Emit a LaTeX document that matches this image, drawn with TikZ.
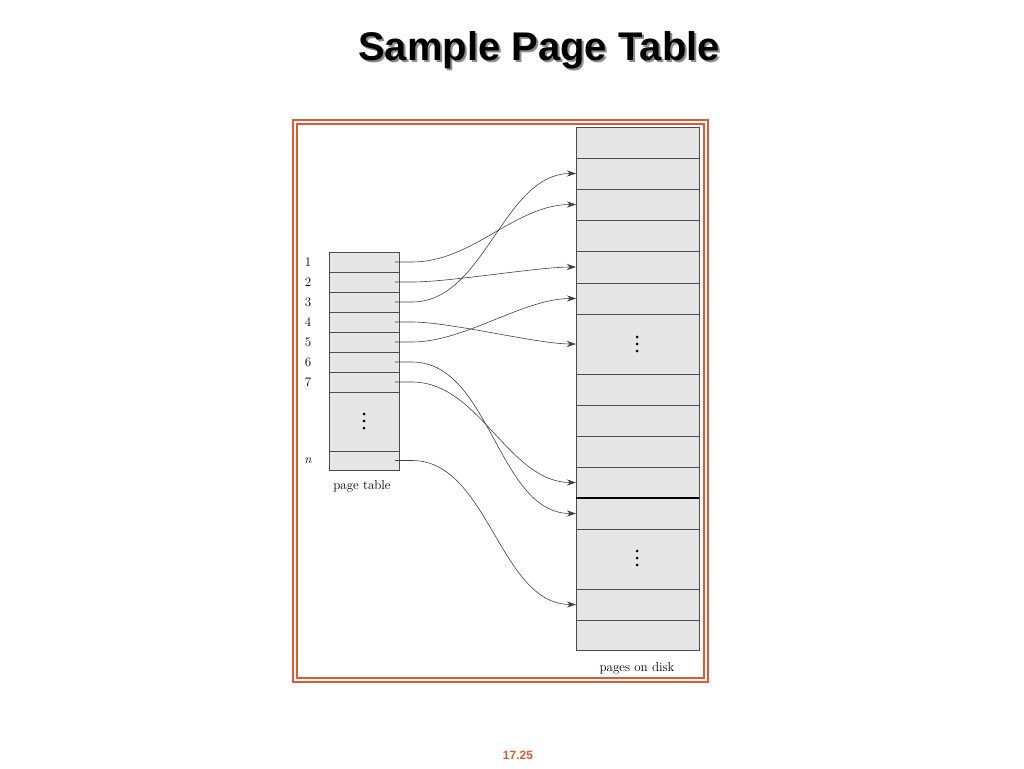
\documentclass[tikz,border=0pt]{standalone}
\usepackage{fontspec}
\newfontfamily\titlefont{Liberation Sans}
\usetikzlibrary{arrows.meta}
\definecolor{frameor}{RGB}{222,90,50}
\definecolor{cellfill}{RGB}{230,230,230}
\tikzset{
 cell/.style={draw=black!70,fill=cellfill,line width=0.8pt},
 conn/.style={draw=black!75,line width=0.6pt,-{Stealth[length=9pt,width=6pt]}},
 lab/.style={font=\fontsize{13}{13}\selectfont,inner sep=0pt},
}
\begin{document}
\begin{tikzpicture}[x=1pt,y=-1pt]
\useasboundingbox (0,0) rectangle (1024,768);
% title
\node[font=\titlefont\bfseries\fontsize{40}{40}\selectfont,text=black!45] at (541,52) {Sample Page Table};
\node[font=\titlefont\bfseries\fontsize{40}{40}\selectfont] (title) at (539,50) {Sample Page Table};
% frame
\draw[frameor,line width=1.2pt] (293,120) rectangle (708,682);
\draw[frameor,line width=1.2pt] (297,124) rectangle (704,678);
% disk
\foreach \a/\b [count=\i] in {127/158,158/189,189/220,220/251,251/283,283/314,314/374,374/405,405/436,436/467,467/498,498/529,529/589,589/620,620/650}{
  \draw[cell] (576,\a) rectangle (699,\b);
  \coordinate (d\i) at (576,{(\a+\b)/2});
}
\draw[black,line width=1.2pt] (576,498) -- (699,498);
\foreach \y in {337,344,351,551,558,565} \fill (637,\y) circle (1.5);
\node[lab] (disklab) at (637,668) {pages on disk};
% page table
\foreach \a/\b/\l [count=\i] in {252/272/1,272/292/2,292/312/3,312/332/4,332/352/5,352/372/6,372/392/7,392/451/{},451/470/{\textit{n}}}{
  \draw[cell] (329,\a) rectangle (399,\b);
  \coordinate (p\i) at (395,{(\a+\b)/2});
  \node[lab] (l\i) at (308,{(\a+\b)/2}) {\l};
}
\foreach \y in {414,421,428} \fill (364,\y) circle (1.5);
\node[lab] (ptlab) at (362,486) {page table};
% connectors
\draw[conn] (p1) -- ++(17,0) to[out=0,in=180,looseness=0.9] (d3);
\draw[conn] (p2) -- ++(17,0) to[out=0,in=180,looseness=0.6] (d5);
\draw[conn] (p3) -- ++(17,0) to[out=0,in=180,looseness=0.9] (d2);
\draw[conn] (p4) -- ++(17,0) to[out=0,in=180,looseness=0.6] (d7);
\draw[conn] (p5) -- ++(17,0) to[out=0,in=180,looseness=0.8] (d6);
\draw[conn] (p6) -- ++(17,0) to[out=0,in=180,looseness=0.9] (d12);
\draw[conn] (p7) -- ++(17,0) to[out=0,in=180,looseness=0.9] (d11);
\draw[conn] (p9) -- ++(17,0) to[out=0,in=180,looseness=0.9] (d14);
% page number
\node[font=\titlefont\bfseries\fontsize{12}{12}\selectfont,text=frameor] (pg) at (518,755) {17.25};
\end{tikzpicture}
\end{document}
